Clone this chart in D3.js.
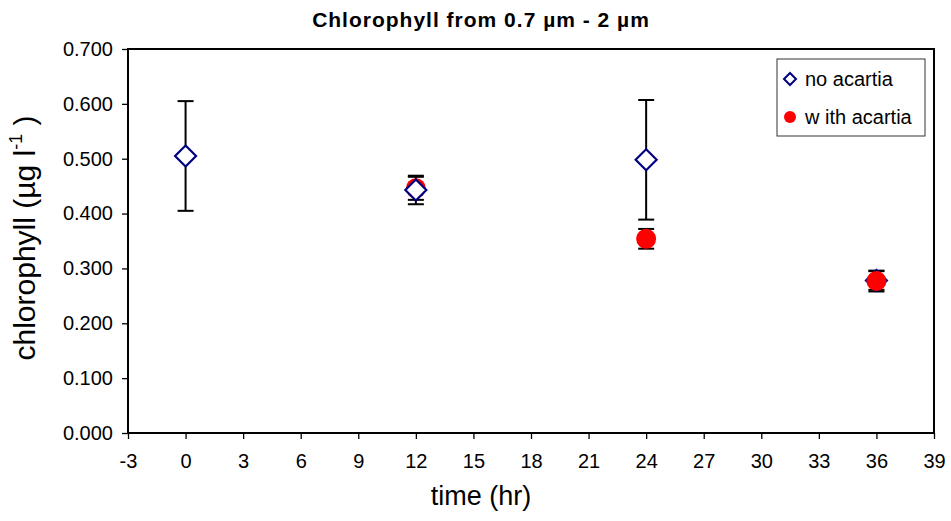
<!DOCTYPE html>
<html>
<head>
<meta charset="utf-8">
<script src="https://cdn.jsdelivr.net/npm/d3@7"></script>
<style>
  body { margin: 0; background: #fff; }
  text { font-family: "Liberation Sans", Arial, sans-serif; fill: #000; }
</style>
</head>
<body>
<script>
// data
var times = [0, 12, 24, 36];
var noAcartia = [0.505, 0.443, 0.498, 0.278];
var noAcartiaErr = [0.100, 0.026, 0.109, 0.017];
var withTimes = [12, 24, 36];
var withAcartia = [0.446, 0.354, 0.277];
var withAcartiaErr = [0.021, 0.018, 0.019];
var xTicks = [-3, 0, 3, 6, 9, 12, 15, 18, 21, 24, 27, 30, 33, 36, 39];
var yTicks = [0, 0.1, 0.2, 0.3, 0.4, 0.5, 0.6, 0.7];
// the red dot covers the diamond at 36
var redInFront = [36];

var width = 951;
var height = 521;
var paddingLeft = 128;
var paddingRight = 17;
var paddingTop = 49;
var paddingBottom = 88;

var svg = d3.select("body")
  .append("svg")
  .attr("width", width)
  .attr("height", height);

var xScale = d3.scaleLinear()
  .domain([-3, 39])
  .range([paddingLeft, width - paddingRight]);

var yScale = d3.scaleLinear()
  .domain([0, 0.7])
  .range([height - paddingBottom, paddingTop]);

var xAxis = d3.axisBottom(xScale).tickValues(xTicks).tickSize(6).tickPadding(15)
  .tickFormat(d => String(d));
var yAxis = d3.axisLeft(yScale).tickValues(yTicks).tickSize(6).tickPadding(9)
  .tickFormat(d => d.toFixed(3));

var gx = svg.append("g")
  .attr("transform", "translate(0, " + (height - paddingBottom) + ")")
  .call(xAxis);
gx.select(".domain").remove();
gx.selectAll("line").attr("stroke", "#000").attr("stroke-width", 1.3);
gx.selectAll("text").attr("font-size", 20).attr("font-family", "Liberation Sans, Arial, sans-serif");

var gy = svg.append("g")
  .attr("transform", "translate(" + paddingLeft + ", 0)")
  .call(yAxis);
gy.select(".domain").remove();
gy.selectAll("line").attr("stroke", "#000").attr("stroke-width", 1.3);
gy.selectAll("text").attr("font-size", 20).attr("font-family", "Liberation Sans, Arial, sans-serif");

// plot frame
svg.append("rect")
  .attr("x", paddingLeft)
  .attr("y", paddingTop)
  .attr("width", width - paddingRight - paddingLeft)
  .attr("height", height - paddingBottom - paddingTop)
  .attr("fill", "none")
  .attr("stroke", "#000")
  .attr("stroke-width", 2);

// error bars
function errorBars(g, xs, ys, es) {
  var data = xs.map((x, i) => ({x: x, y: ys[i], e: es[i]}));
  var bars = g.selectAll(null).data(data).enter().append("g")
    .attr("stroke", "#000")
    .attr("stroke-width", 2);
  bars.append("line")
    .attr("x1", d => xScale(d.x)).attr("x2", d => xScale(d.x))
    .attr("y1", d => yScale(d.y - d.e)).attr("y2", d => yScale(d.y + d.e));
  bars.append("line")
    .attr("x1", d => xScale(d.x) - 8).attr("x2", d => xScale(d.x) + 8)
    .attr("y1", d => yScale(d.y + d.e)).attr("y2", d => yScale(d.y + d.e));
  bars.append("line")
    .attr("x1", d => xScale(d.x) - 8).attr("x2", d => xScale(d.x) + 8)
    .attr("y1", d => yScale(d.y - d.e)).attr("y2", d => yScale(d.y - d.e));
}

var plot = svg.append("g");
errorBars(plot, times, noAcartia, noAcartiaErr);
errorBars(plot, withTimes, withAcartia, withAcartiaErr);

var diamond = "M0,-10.5L10.5,0L0,10.5L-10.5,0Z";

function drawDiamonds(g, filter) {
  g.selectAll(null)
    .data(times.map((t, i) => ({x: t, y: noAcartia[i]})).filter(filter))
    .enter().append("path")
    .attr("d", diamond)
    .attr("transform", d => "translate(" + xScale(d.x) + "," + yScale(d.y) + ")")
    .attr("fill", "#fff")
    .attr("stroke", "#000080")
    .attr("stroke-width", 2.2);
}

drawDiamonds(plot, d => redInFront.indexOf(d.x) >= 0);

plot.selectAll(null)
  .data(withTimes.map((t, i) => ({x: t, y: withAcartia[i]})))
  .enter().append("circle")
  .attr("cx", d => xScale(d.x))
  .attr("cy", d => yScale(d.y))
  .attr("r", 10)
  .attr("fill", "#ff0000");

drawDiamonds(plot, d => redInFront.indexOf(d.x) < 0);

// legend
var legend = svg.append("g").attr("transform", "translate(777, 59)");
legend.append("rect")
  .attr("width", 148).attr("height", 77)
  .attr("fill", "#fff")
  .attr("stroke", "#333")
  .attr("stroke-width", 1);
legend.append("path")
  .attr("d", "M0,-6L6,0L0,6L-6,0Z")
  .attr("transform", "translate(13, 20)")
  .attr("fill", "#fff")
  .attr("stroke", "#000080")
  .attr("stroke-width", 2);
legend.append("circle")
  .attr("cx", 13).attr("cy", 58).attr("r", 6)
  .attr("fill", "#ff0000");
legend.append("text")
  .attr("x", 28).attr("y", 27)
  .attr("font-size", 20)
  .text("no acartia");
legend.append("text")
  .attr("x", 28).attr("y", 65)
  .attr("font-size", 20)
  .attr("xml:space", "preserve")
  .text("w ith acartia");

// title and axis labels
svg.append("text")
  .attr("x", 481).attr("y", 27)
  .attr("text-anchor", "middle")
  .attr("font-size", 21)
  .attr("font-weight", "bold")
  .attr("letter-spacing", 1)
  .text("Chlorophyll from 0.7 µm - 2 µm");

svg.append("text")
  .attr("x", 481).attr("y", 505)
  .attr("text-anchor", "middle")
  .attr("font-size", 27)
  .text("time (hr)");

var yLabel = svg.append("text")
  .attr("transform", "translate(35, 238) rotate(-90)")
  .attr("text-anchor", "middle")
  .attr("font-size", 30);
yLabel.append("tspan").text("chlorophyll (µg l");
yLabel.append("tspan").attr("font-size", 18).attr("dy", -13).text("-1");
yLabel.append("tspan").attr("dy", 13).text(" )");
</script>
</body>
</html>
